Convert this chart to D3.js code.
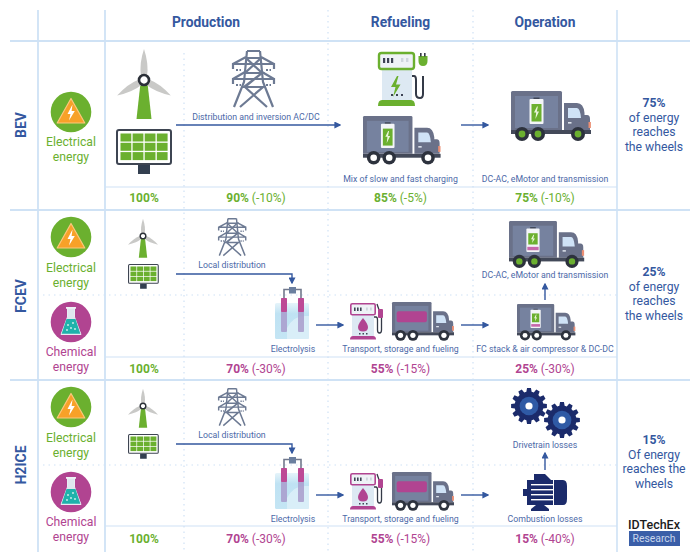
<!DOCTYPE html>
<html>
<head>
<meta charset="utf-8">
<script src="https://cdn.jsdelivr.net/npm/d3@7"></script>
<style>
  html, body { margin: 0; padding: 0; background: #fff; }
  svg { display: block; }
  text { font-family: Roboto, sans-serif; }
</style>
</head>
<body>
<svg id="chart" width="700" height="558"></svg>
<script>
// Chart values
const stages = ['Production', 'Refueling', 'Operation'];
const techs = ['BEV', 'FCEV', 'H2ICE'];
const pctColumns = ['source', 'grid', 'refuel', 'drive'];
const bevPct = [100, 90, 85, 75];
const bevLoss = [null, -10, -5, -10];
const fcevPct = [100, 70, 55, 25];
const fcevLoss = [null, -30, -15, -30];
const h2icePct = [100, 70, 55, 15];
const h2iceLoss = [null, -30, -15, -40];
const bevSummary = ['75%', 'of energy', 'reaches', 'the wheels'];
const fcevSummary = ['25%', 'of energy', 'reaches', 'the wheels'];
const h2iceSummary = ['15%', 'Of energy', 'reaches the', 'wheels'];

const GREEN = '#6bb02f', MAGENTA = '#b14491', BLUE = '#34589f', TEXT = '#4c69a8';
const RULE = '#cfe2f5', SLATE = '#6a7189', NAVY = '#1b2b6b';

const svg = d3.select('#chart');

// Layout scales
const xCol = d3.scaleOrdinal().domain(pctColumns).range([144, 256, 400.5, 545]);
const xStage = d3.scaleOrdinal().domain(stages).range([206, 400.5, 545]);
const yRow = d3.scaleOrdinal().domain(techs).range([125, 296, 465]);
const yPct = d3.scaleOrdinal().domain(techs).range([198, 369, 539]);
const ySummary = d3.scaleOrdinal().domain(techs).range([103, 272, 440]);

const defs = svg.append('defs');
defs.append('marker').attr('id', 'head')
  .attr('viewBox', '0 0 10 10').attr('refX', 8).attr('refY', 5)
  .attr('markerWidth', 7).attr('markerHeight', 7).attr('markerUnits', 'userSpaceOnUse')
  .attr('orient', 'auto')
  .append('path').attr('d', 'M0,0L10,5L0,10Z').attr('fill', BLUE);
const waterFade = defs.append('linearGradient').attr('id', 'water')
  .attr('x1', 0).attr('x2', 0).attr('y1', 0).attr('y2', 1);
waterFade.append('stop').attr('offset', 0).attr('stop-color', '#e6f4fa');
waterFade.append('stop').attr('offset', 0.3).attr('stop-color', '#bfe2f3');
waterFade.append('stop').attr('offset', 1).attr('stop-color', '#c4e5f4');

// Grid lines
const rules = svg.append('g');
function hLine(x1, x2, y, w, dash) {
  rules.append('line').attr('x1', x1).attr('x2', x2).attr('y1', y).attr('y2', y)
    .attr('stroke', RULE).attr('stroke-width', w).attr('stroke-dasharray', dash || null);
}
function vLine(x, y1, y2, w, dash) {
  rules.append('line').attr('x1', x).attr('x2', x).attr('y1', y1).attr('y2', y2)
    .attr('stroke', RULE).attr('stroke-width', w).attr('stroke-dasharray', dash || null);
}
[41, 210, 380].forEach(y => hLine(10, 690, y, 1.8));
[187, 357, 526].forEach(y => hLine(105, 617, y, 1.2));
[295, 465].forEach(y => hLine(43, 617, y, 1.2, '1.5 4'));
[38, 105].forEach(x => vLine(x, 10, 552, 1.8));
vLine(617, 10, 552, 1.6);
vLine(184, 53, 552, 1.2, '1.5 4');
[328, 473].forEach(x => vLine(x, 10, 552, 1.2, '1.5 4'));

// Text
function label(x, y, str, size, color, weight, anchor) {
  return svg.append('text').attr('x', x).attr('y', y).attr('dy', '0.35em')
    .attr('text-anchor', anchor || 'middle').attr('font-size', size)
    .attr('font-weight', weight || 400).attr('fill', color).text(str);
}
stages.forEach(s => label(xStage(s), 22, s, 13.8, BLUE, 700));
techs.forEach(t => {
  label(0, 0, t, 14, BLUE, 700)
    .attr('transform', `translate(21,${yRow(t)}) rotate(-90)`);
});

function pctRow(tech, vals, losses, color) {
  vals.forEach((v, i) => {
    const c = i === 0 ? GREEN : color;
    const t = svg.append('text').attr('x', xCol(pctColumns[i])).attr('y', yPct(tech))
      .attr('dy', '0.35em').attr('text-anchor', 'middle').attr('font-size', 12).attr('fill', c);
    t.append('tspan').attr('font-weight', 700).text(v + '%');
    if (losses[i] !== null) t.append('tspan').text(` (${losses[i]}%)`);
  });
}
pctRow('BEV', bevPct, bevLoss, GREEN);
pctRow('FCEV', fcevPct, fcevLoss, MAGENTA);
pctRow('H2ICE', h2icePct, h2iceLoss, MAGENTA);

function summary(tech, lines) {
  lines.forEach((l, i) => label(654, ySummary(tech) + i * 14.6, l, 12.2, BLUE, i === 0 ? 700 : 400));
}
summary('BEV', bevSummary);
summary('FCEV', fcevSummary);
summary('H2ICE', h2iceSummary);

// Small captions
[
  ['Distribution and inversion AC/DC', 256, 117],
  ['Mix of slow and fast charging', 400.5, 179],
  ['DC-AC, eMotor and transmission', 545, 179],
  ['Local distribution', 232, 265],
  ['Electrolysis', 293, 349],
  ['Transport, storage and fueling', 400.5, 349],
  ['FC stack & air compressor & DC-DC', 545, 349],
  ['DC-AC, eMotor and transmission', 545, 275],
  ['Local distribution', 232, 435],
  ['Electrolysis', 293, 519],
  ['Transport, storage and fueling', 400.5, 519],
  ['Combustion losses', 545, 519],
  ['Drivetrain losses', 545, 445]
].forEach(d => label(d[1], d[2], d[0], 8.75, TEXT));

// Arrows
function arrow(points) {
  svg.append('path').attr('d', d3.line()(points)).attr('fill', 'none')
    .attr('stroke', BLUE).attr('stroke-width', 1.4).attr('marker-end', 'url(#head)');
}
arrow([[176, 125], [340, 125]]);
arrow([[461, 125], [488, 125]]);
arrow([[176, 274], [292, 274], [292, 283]]);
arrow([[316, 325], [343, 325]]);
arrow([[461, 325], [488, 325]]);
arrow([[545, 300], [545, 284]]);
arrow([[176, 444], [292, 444], [292, 453]]);
arrow([[316, 495], [343, 495]]);
arrow([[461, 495], [488, 495]]);
arrow([[545, 470], [545, 453]]);

// Icons
function place(x, y, s) {
  return svg.append('g').attr('transform', `translate(${x},${y}) scale(${s})`);
}

function energyElectrical(cx, cy) {
  const g = place(cx, cy, 1);
  g.append('circle').attr('r', 20.3).attr('fill', GREEN);
  g.append('path').attr('d', 'M0,-13.5L13.8,11H-13.8Z').attr('fill', '#f7a128')
    .attr('stroke', '#fbc77d').attr('stroke-width', 1.2).attr('stroke-linejoin', 'round');
  g.append('path').attr('d', 'M1.5,-7.5L-3.5,2H-0.5L-2,8.5L3.8,-1H0.6Z').attr('fill', '#fff');
}
function energyChemical(cx, cy) {
  const g = place(cx, cy, 1);
  g.append('circle').attr('r', 20.3).attr('fill', MAGENTA);
  g.append('path').attr('d', 'M-3.5,-14V-5L-10,12.5H10L3.5,-5V-14Z').attr('fill', '#dfe6ef')
    .attr('stroke', '#e8edf3').attr('stroke-width', 1);
  g.append('path').attr('d', 'M-4.5,-3H4.5L9.3,11.8H-9.3Z').attr('fill', '#1fb2ab');
  [[-3, 3], [2, 1], [4, 7], [-4, 8], [0, 6]].forEach(p =>
    g.append('circle').attr('cx', p[0]).attr('cy', p[1]).attr('r', 0.9).attr('fill', '#d5f3f1'));
  g.append('rect').attr('x', -5).attr('y', -15).attr('width', 10).attr('height', 1.8).attr('fill', '#eef2f6');
}

function turbine(cx, cy, s) {
  const g = place(cx, cy, s);
  g.append('path').attr('d', 'M-3.5,3L-7.5,39H7.5L3.5,3Z').attr('fill', GREEN);
  [0, 120, 240].forEach(a => {
    g.append('path').attr('transform', `rotate(${a})`)
      .attr('d', 'M-3,-4Q-5,-16 0,-31Q5,-16 3,-4Z').attr('fill', '#c9c9c7');
  });
  g.append('circle').attr('r', 5).attr('fill', '#fff').attr('stroke', '#2b3038').attr('stroke-width', 2.6);
}

function solarPanel(x, y, s) {
  const g = place(x, y, s);
  g.append('rect').attr('x', 22).attr('y', 36).attr('width', 12).attr('height', 9).attr('fill', '#333f50');
  g.append('rect').attr('x', 1).attr('y', 1).attr('width', 54).attr('height', 34).attr('rx', 2)
    .attr('fill', '#fff').attr('stroke', '#3e4552').attr('stroke-width', 2);
  d3.range(4).forEach(c => d3.range(3).forEach(r => {
    g.append('rect').attr('x', 4.5 + c * 12.1).attr('y', 4.5 + r * 9.3)
      .attr('width', 10.8).attr('height', 8).attr('fill', GREEN);
  }));
}

function pylon(x, y, s) {
  const g = place(x, y, s).attr('fill', 'none').attr('stroke', '#6d7a93').attr('stroke-width', 2.2);
  const side = 'M15,1L12,32L2,57M15,1H28M28,1L31,32L41,57';
  g.append('path').attr('d', side);
  g.append('path').attr('d', 'M14,8H29L13,23H30L12,37H31L8,57M14,8L30,23L13,37L35,57M12,37H31');
  g.append('path').attr('d', 'M14,7L1,14V19M1,14H42V19M29,7L42,14');
  g.append('path').attr('d', 'M13,22L1,29V34M1,29H42V34M30,22L42,29');
  g.append('path').attr('d', 'M4,20H9M34,20H39M4,35H9M34,35H39').attr('stroke-dasharray', '2 1.5');
}

function truck(x, y, s, opts) {
  const g = place(x, y, s);
  g.append('path').attr('d', 'M1.5,0H49.5Q51,0 51,1.5V39H0V1.5Q0,0 1.5,0Z').attr('fill', SLATE);
  g.append('rect').attr('x', 4).attr('y', 5).attr('width', 43).attr('height', 32).attr('fill', '#76829f');
  g.append('path').attr('d', 'M53,39V12H66Q72.5,12 73.5,22V24H76Q79,24 79,28V39Z').attr('fill', SLATE);
  g.append('path').attr('d', 'M57,17H66Q69,17 70,27H57Z').attr('fill', '#cfe2f6');
  g.append('rect').attr('x', 57).attr('y', 31).attr('width', 3.5).attr('height', 1.6).attr('fill', '#dfe5ee');
  g.append('rect').attr('x', 77.5).attr('y', 31).attr('width', 2.4).attr('height', 6).attr('fill', '#ec8f74');
  g.append('rect').attr('x', 0).attr('y', 39).attr('width', 80).attr('height', 4).attr('fill', '#434959');
  [11, 27, 67].forEach(cx => {
    g.append('circle').attr('cx', cx).attr('cy', 43).attr('r', 7).attr('fill', '#2d323d');
    g.append('circle').attr('cx', cx).attr('cy', 43).attr('r', 3.4).attr('fill', opts.hub);
  });
  if (opts.tank) {
    g.append('rect').attr('x', 6).attr('y', 12).attr('width', 39).attr('height', 14).attr('rx', 2.5).attr('fill', MAGENTA);
  }
  if (opts.battery) {
    g.append('rect').attr('x', 22.5).attr('y', 6.5).attr('width', 6).attr('height', 2).attr('fill', '#3d4354');
    g.append('rect').attr('x', 18.5).attr('y', 8).attr('width', 14).attr('height', 25).attr('rx', 1).attr('fill', '#f3f5f8');
    g.append('rect').attr('x', 20.5).attr('y', 13).attr('width', 10)
      .attr('height', opts.magentaBase ? 12 : 17.5).attr('fill', GREEN);
    if (opts.magentaBase) {
      g.append('rect').attr('x', 19.5).attr('y', 27.5).attr('width', 12).attr('height', 3.6).attr('fill', '#c668ab');
    }
    g.append('path').attr('d', opts.magentaBase
      ? 'M26,14.5L23.4,19.5H25.2L24.6,23.5L27.6,18.5H25.8L26.8,14.5Z'
      : 'M26,15.5L23,21.5H25.2L24.4,28L28,20.5H25.8L26.9,15.5Z').attr('fill', '#eaf5da');
  }
}

function charger(x, y) {
  const g = place(x, y, 1);
  g.append('rect').attr('x', 4).attr('y', 16).attr('width', 30).attr('height', 33).attr('fill', '#dde9f3');
  g.append('rect').attr('x', 1).attr('y', 1).attr('width', 35).attr('height', 16).attr('rx', 2.5)
    .attr('fill', '#eef2f6').attr('stroke', GREEN).attr('stroke-width', 2.4);
  [5, 9, 13].forEach(dx => g.append('rect').attr('x', dx).attr('y', 6).attr('width', 2.2).attr('height', 5).attr('fill', '#3d4354'));
  [23, 28].forEach(dx => g.append('rect').attr('x', dx).attr('y', 6).attr('width', 2.4).attr('height', 4).attr('fill', '#cfd6de'));
  g.append('path').attr('d', 'M19,24L13,35H17.5L15,45L22.5,32.5H18L20.5,24Z').attr('fill', GREEN);
  [13, 18, 23].forEach(dx => g.append('rect').attr('x', dx).attr('y', 42).attr('width', 2).attr('height', 2).attr('fill', '#3d4354'));
  g.append('path').attr('d', 'M0,54Q0,48 4,48H33Q37,48 37,54Z').attr('fill', GREEN);
  g.append('path').attr('d', 'M34,24H36Q38,24 38,28V42Q38,46 42,46Q45,46 45,42V24').attr('fill', 'none')
    .attr('stroke', '#343a47').attr('stroke-width', 2);
  g.append('path').attr('d', 'M40.5,4H49.5V9Q49.5,14 45,14Q40.5,14 40.5,9Z').attr('fill', GREEN);
  [42, 46].forEach(dx => g.append('rect').attr('x', dx).attr('y', 1).attr('width', 1.6).attr('height', 3.5).attr('fill', '#343a47'));
}

function pump(x, y) {
  const g = place(x, y, 1);
  g.append('rect').attr('x', 2).attr('y', 10).attr('width', 22).attr('height', 23).attr('fill', '#dde9f3');
  g.append('rect').attr('x', 0.8).attr('y', 0.8).attr('width', 24.4).attr('height', 11).attr('rx', 1.5)
    .attr('fill', '#eef2f6').attr('stroke', MAGENTA).attr('stroke-width', 1.6);
  [4, 7, 10].forEach(dx => g.append('rect').attr('x', dx).attr('y', 4.5).attr('width', 1.6).attr('height', 3.5).attr('fill', '#3d4354'));
  [16, 20].forEach(dx => g.append('rect').attr('x', dx).attr('y', 4.5).attr('width', 1.8).attr('height', 3).attr('fill', '#cfd6de'));
  g.append('path').attr('d', 'M13,15Q18,21 18,24Q18,28.5 13,28.5Q8,28.5 8,24Q8,21 13,15Z').attr('fill', MAGENTA);
  [9, 12.5, 16].forEach(dx => g.append('rect').attr('x', dx).attr('y', 30).attr('width', 1.5).attr('height', 1.5).attr('fill', '#3d4354'));
  g.append('path').attr('d', 'M0,36.5Q0,33 3,33H23Q26,33 26,36.5Z').attr('fill', MAGENTA);
  g.append('path').attr('d', 'M24,14H26Q27.5,14 27.5,17V27Q27.5,30 29.5,30Q31.5,30 31.5,27V14L27,1').attr('fill', 'none')
    .attr('stroke', '#343a47').attr('stroke-width', 1.3);
  g.append('rect').attr('x', 28).attr('y', 6).attr('width', 5).attr('height', 9).attr('rx', 1).attr('fill', MAGENTA);
}

function electrolyser(x, y) {
  const g = place(x, y, 1);
  g.append('path').attr('d', 'M9,13V3.5H26V13').attr('fill', 'none').attr('stroke', '#71788c').attr('stroke-width', 1.6);
  g.append('rect').attr('x', 14).attr('y', 1).attr('width', 7).attr('height', 6.5).attr('fill', '#6b7f9f');
  g.append('rect').attr('x', 0).attr('y', 17).attr('width', 34).attr('height', 36).attr('rx', 1.5).attr('fill', 'url(#water)');
  g.append('path').attr('d', 'M12,53V42Q18,30 30,30H34V53Z').attr('fill', '#e2f2f9').attr('opacity', 0.7);
  [6, 23].forEach(dx => {
    g.append('rect').attr('x', dx).attr('y', 12).attr('width', 6).attr('height', 34).attr('rx', 1).attr('fill', '#a89bcb').attr('opacity', 0.85);
    g.append('rect').attr('x', dx).attr('y', 12).attr('width', 6).attr('height', 14).attr('rx', 1).attr('fill', '#bd4a96');
  });
}

function gear(cx, cy, r) {
  const g = place(cx, cy, 1);
  const teeth = 12;
  const pts = [];
  d3.range(teeth).forEach(i => {
    const a = i * 2 * Math.PI / teeth, w = Math.PI / teeth;
    [[a - w * 0.7, r * 0.8], [a - w * 0.42, r], [a + w * 0.42, r], [a + w * 0.7, r * 0.8]].forEach(p =>
      pts.push([p[1] * Math.sin(p[0]), -p[1] * Math.cos(p[0])]));
  });
  g.append('path').attr('d', d3.line()(pts) + 'Z').attr('fill', NAVY);
  g.append('circle').attr('r', r * 0.52).attr('fill', '#2f5aa5');
  g.append('circle').attr('r', r * 0.2).attr('fill', '#fff');
}

function motor(x, y) {
  const g = place(x, y, 1);
  g.append('path').attr('d', 'M11,0H22L28,6H11Z').attr('fill', NAVY);
  g.append('rect').attr('x', 4).attr('y', 6).attr('width', 26).attr('height', 25).attr('fill', NAVY);
  g.append('path').attr('d', 'M31,6H40Q44,6 44,12V25Q44,31 40,31H31Z').attr('fill', NAVY);
  g.append('rect').attr('x', 0).attr('y', 15).attr('width', 5).attr('height', 7).attr('fill', NAVY);
  [10, 15, 20, 25].forEach(dy => g.append('rect').attr('x', 8).attr('y', dy).attr('width', 23).attr('height', 1.4).attr('fill', '#fff'));
  g.append('path').attr('d', 'M8,37V35L13,31H21L26,35V37Z').attr('fill', NAVY);
}

// BEV row
energyElectrical(71, 112);
label(71, 142, 'Electrical', 12.2, GREEN);
label(71, 157, 'energy', 12.2, GREEN);
turbine(144, 80, 1);
solarPanel(116, 129, 1);
pylon(232, 50, 1);
charger(378, 52);
truck(363, 116, 0.97, { hub: '#fff', battery: true });
truck(511, 91, 1, { hub: GREEN, battery: true });

// FCEV and H2ICE share the upstream half of the picture
[0, 170].forEach(dy => {
  energyElectrical(71, 237 + dy);
  label(71, 268 + dy, 'Electrical', 12.2, GREEN);
  label(71, 283 + dy, 'energy', 12.2, GREEN);
  energyChemical(71, 322 + dy);
  label(71, 352 + dy, 'Chemical', 12.2, MAGENTA);
  label(71, 367 + dy, 'energy', 12.2, MAGENTA);
  turbine(143, 236 + dy, 0.56);
  solarPanel(128, 264 + dy, 0.55);
  pylon(218, 218 + dy, 0.66);
  electrolyser(275, 286 + dy);
  pump(350, 303 + dy);
  truck(392, 302 + dy, 0.775, { hub: '#fff', tank: true });
});

// FCEV operation
truck(509, 221, 0.94, { hub: GREEN, battery: true, magentaBase: true });
truck(517, 304, 0.73, { hub: '#fff', battery: true, magentaBase: true });

// H2ICE operation
gear(529, 406, 18);
gear(562, 420, 18);
motor(523, 474);

// Logo
label(654, 525, 'IDTechEx', 12.5, '#1c1c1c', 500);
svg.append('rect').attr('x', 629).attr('y', 531).attr('width', 51).attr('height', 15).attr('fill', '#3a5ea8');
label(654, 538.5, 'Research', 10.4, '#c9d6ec');
</script>
</body>
</html>
